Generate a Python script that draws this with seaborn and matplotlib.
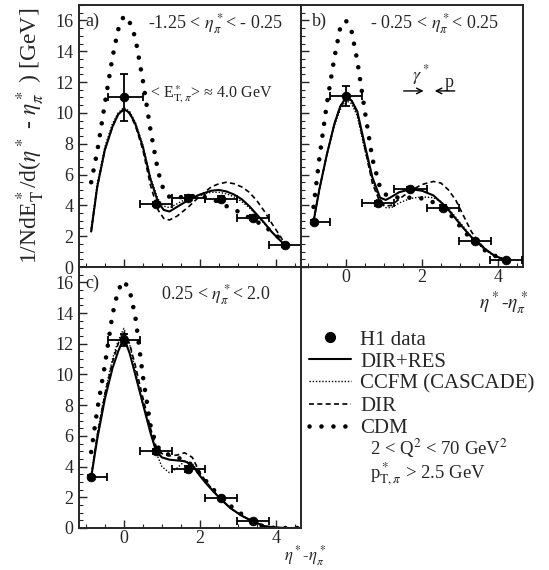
import matplotlib
matplotlib.use("Agg")
import matplotlib.pyplot as plt
from matplotlib.lines import Line2D
from matplotlib.ticker import MultipleLocator
import numpy as np
import pandas as pd
import seaborn as sns

# ---- panel a) -1.25 < eta*_pi < -0.25 ----
a_pts_x = [0.0, 0.85, 1.7, 2.55, 3.4, 4.25]
a_pts_y = [11.0, 4.1, 4.5, 4.4, 3.2, 1.43]
a_pts_yerr = [1.5, 0.15, 0.15, 0.2, 0.15, 0.1]
a_pts_xerr_lo = [0.43, 0.425, 0.425, 0.425, 0.425, 0.425]
a_pts_xerr_hi = [0.5, 0.425, 0.425, 0.425, 0.425, 0.425]

a_x = [-0.86, -0.7, -0.5, -0.3, -0.15, 0.0, 0.15, 0.3, 0.5, 0.7, 0.9, 1.05, 1.2, 1.4,
       1.7, 2.0, 2.3, 2.5, 2.7, 2.9, 3.1, 3.3, 3.5, 3.7, 3.9, 4.1, 4.25]
a_dirres = [2.3, 5.2, 7.6, 9.1, 9.9, 10.25, 10.0, 9.3, 7.8, 5.7, 4.2, 3.7, 3.6, 3.9,
            4.35, 4.7, 4.95, 5.0, 4.9, 4.7, 4.4, 3.95, 3.4, 2.85, 2.25, 1.75, 1.4]
a_ccfm = [2.5, 5.4, 7.8, 9.3, 10.0, 10.35, 10.1, 9.4, 7.9, 5.8, 4.4, 3.95, 3.85, 4.1,
          4.5, 4.7, 4.85, 4.85, 4.75, 4.55, 4.25, 3.85, 3.35, 2.8, 2.25, 1.75, 1.4]
a_dir = [2.3, 5.2, 7.6, 9.1, 9.9, 10.2, 9.95, 9.2, 7.6, 5.3, 3.7, 3.15, 3.05, 3.3,
         3.9, 4.6, 5.2, 5.4, 5.5, 5.4, 5.2, 4.85, 4.3, 3.6, 2.8, 2.05, 1.45]
a_cdm = [5.5, 7.5, 10.6, 13.6, 15.4, 16.3, 15.9, 14.9, 12.1, 8.9, 6.2, 4.95, 4.55, 4.5,
         4.6, 4.6, 4.45, 4.2, 3.95, 3.75, 3.45, 3.2, 2.95, 2.6, 2.3, 1.85, 1.45]

# ---- panel b) -0.25 < eta*_pi < 0.25 ----
b_pts_x = [-0.85, 0.0, 0.85, 1.7, 2.55, 3.4, 4.21]
b_pts_y = [2.95, 11.1, 4.14, 5.07, 3.86, 1.69, 0.46]
b_pts_yerr = [0.1, 0.67, 0.15, 0.15, 0.15, 0.1, 0.05]
b_pts_xerr_lo = [0.0, 0.425, 0.425, 0.425, 0.425, 0.425, 0.425]
b_pts_xerr_hi = [0.425, 0.425, 0.425, 0.425, 0.425, 0.425, 0.425]

b_x = [-0.85, -0.7, -0.5, -0.3, -0.15, 0.0, 0.15, 0.3, 0.5, 0.7, 0.9, 1.05, 1.2, 1.4,
       1.7, 2.0, 2.3, 2.5, 2.7, 2.9, 3.1, 3.3, 3.5, 3.7, 3.9, 4.05, 4.21]
b_dirres = [2.95, 5.0, 7.3, 9.3, 10.4, 11.0, 10.8, 10.1, 7.9, 5.8, 4.5, 4.35, 4.55, 4.85,
            5.05, 4.95, 4.65, 4.2, 3.7, 3.1, 2.5, 1.95, 1.5, 1.1, 0.75, 0.6, 0.46]
b_ccfm = [2.95, 5.0, 7.3, 9.2, 10.2, 10.8, 10.6, 9.8, 7.6, 5.6, 4.2, 3.85, 3.85, 4.15,
          4.45, 4.55, 4.5, 4.25, 3.8, 3.2, 2.6, 1.95, 1.45, 1.05, 0.7, 0.55, 0.45]
b_dir = [2.95, 5.0, 7.3, 9.3, 10.4, 11.0, 10.8, 10.0, 7.7, 5.4, 4.2, 3.95, 4.0, 4.4,
         4.95, 5.35, 5.55, 5.45, 5.0, 4.3, 3.3, 2.3, 1.6, 1.1, 0.75, 0.6, 0.46]
b_cdm = [3.9, 7.0, 10.6, 13.6, 15.5, 16.0, 15.3, 13.4, 10.1, 7.0, 5.15, 4.7, 4.55, 4.5,
         4.5, 4.45, 4.2, 3.95, 3.55, 2.95, 2.35, 1.8, 1.4, 1.0, 0.75, 0.6, 0.46]

# ---- panel c) 0.25 < eta*_pi < 2.0 ----
c_pts_x = [-0.86, 0.0, 0.85, 1.7, 2.55, 3.4]
c_pts_y = [3.35, 12.25, 5.0, 3.86, 1.97, 0.46]
c_pts_yerr = [0.1, 0.4, 0.15, 0.2, 0.1, 0.05]
c_pts_xerr_lo = [0.0, 0.425, 0.425, 0.425, 0.425, 0.425]
c_pts_xerr_hi = [0.425, 0.425, 0.425, 0.425, 0.425, 0.425]

c_x = [-0.86, -0.7, -0.5, -0.3, -0.15, 0.0, 0.15, 0.3, 0.5, 0.7, 0.85, 1.0, 1.2, 1.4,
       1.6, 1.8, 2.0, 2.2, 2.5, 2.8, 3.1, 3.4, 3.7, 4.0, 4.3, 4.65]
c_dirres = [3.3, 5.8, 8.4, 10.4, 11.5, 12.4, 11.4, 10.0, 8.1, 6.2, 5.0, 4.6, 4.45, 4.4,
            4.35, 4.1, 3.4, 2.8, 2.0, 1.3, 0.8, 0.42, 0.12, 0.03, 0.0, 0.0]
c_ccfm = [3.4, 6.1, 8.8, 11.0, 12.2, 13.0, 12.0, 10.3, 8.0, 6.3, 4.9, 4.0, 3.6, 3.9,
          4.35, 4.2, 3.5, 2.85, 2.0, 1.3, 0.8, 0.42, 0.12, 0.03, 0.0, 0.0]
c_dir = [3.3, 6.0, 8.7, 10.8, 12.0, 12.8, 12.0, 10.6, 8.5, 6.5, 5.3, 4.85, 4.7, 4.75,
         4.9, 4.6, 3.6, 2.9, 2.0, 1.3, 0.8, 0.42, 0.12, 0.03, 0.0, 0.0]
c_cdm = [4.95, 7.7, 10.6, 13.9, 15.5, 16.1, 15.5, 13.8, 9.9, 6.7, 5.4, 5.0, 4.75, 4.6,
         4.4, 4.1, 3.55, 2.95, 2.1, 1.45, 0.9, 0.4, 0.07, 0.0, 0.0, 0.0]

model_names = ["DIR+RES", "CCFM (CASCADE)", "DIR", "CDM"]
model_styles = {
    "DIR+RES": dict(linestyle="-", linewidth=1.5),
    "CCFM (CASCADE)": dict(linestyle=(0, (1.0, 1.3)), linewidth=1.0),
    "DIR": dict(linestyle=(0, (3.0, 2.0)), linewidth=1.2),
    "CDM": dict(linestyle=(0, (0.01, 2.6)), linewidth=3.3, dash_capstyle="round"),
}

sns.set_style("ticks")
plt.rcParams["font.family"] = ["Liberation Serif", "DejaVu Serif"]
plt.rcParams["mathtext.fontset"] = "stix"


def draw_panel(ax, x, curves, px, py, pyerr, pxlo, pxhi):
    for name, yv in zip(model_names, curves):
        frame = pd.DataFrame({"x": x, "y": yv})
        sns.lineplot(data=frame, x="x", y="y", ax=ax, color="black", estimator=None,
                     sort=False, legend=False, **model_styles[name])
    ax.errorbar(px, py, yerr=pyerr, xerr=[pxlo, pxhi], fmt="none", ecolor="black",
                elinewidth=1.3, capsize=3, capthick=1.3, zorder=4)
    pts = pd.DataFrame({"x": px, "y": py})
    sns.scatterplot(data=pts, x="x", y="y", ax=ax, color="black", s=40,
                    edgecolor="black", zorder=5, legend=False)
    ax.set_xlim(-1.18, 4.66)
    ax.set_ylim(0, 17)
    ax.xaxis.set_major_locator(MultipleLocator(2))
    ax.xaxis.set_minor_locator(MultipleLocator(0.5))
    ax.yaxis.set_major_locator(MultipleLocator(2))
    ax.yaxis.set_minor_locator(MultipleLocator(0.5))
    ax.tick_params(which="both", direction="in", top=False, right=False, labelsize=13)
    ax.tick_params(which="major", length=6, width=1.0, pad=4)
    ax.tick_params(which="minor", length=3, width=0.8)
    ax.tick_params(axis="x", which="major", pad=1.5)
    for sp in ax.spines.values():
        sp.set_visible(True)
        sp.set_linewidth(1.4)
    ax.set_xlabel("")
    ax.set_ylabel("")


fig = plt.figure(figsize=(5.49, 5.70), dpi=100)
W, H = 549.0, 570.0
ax_a = fig.add_axes([79 / W, 1 - 267 / H, 222 / W, 262 / H])
ax_b = fig.add_axes([301 / W, 1 - 267 / H, 222 / W, 262 / H])
ax_c = fig.add_axes([79 / W, 1 - 528 / H, 222 / W, 261 / H])

draw_panel(ax_a, a_x, [a_dirres, a_ccfm, a_dir, a_cdm],
           a_pts_x, a_pts_y, a_pts_yerr, a_pts_xerr_lo, a_pts_xerr_hi)
draw_panel(ax_b, b_x, [b_dirres, b_ccfm, b_dir, b_cdm],
           b_pts_x, b_pts_y, b_pts_yerr, b_pts_xerr_lo, b_pts_xerr_hi)
draw_panel(ax_c, c_x, [c_dirres, c_ccfm, c_dir, c_cdm],
           c_pts_x, c_pts_y, c_pts_yerr, c_pts_xerr_lo, c_pts_xerr_hi)

ax_a.tick_params(labelbottom=False)
ax_b.tick_params(labelleft=False)

ax_a.set_ylabel(r"1/NdE$^*_\mathrm{T}$/d($\eta^*$ - $\eta^*_\pi$ ) [GeV]", fontsize=17, labelpad=6)

# panel annotations
ax_a.text(0.03, 0.97, "a)", transform=ax_a.transAxes, fontsize=13, va="top")
ax_a.text(0.31, 0.93, r"-1.25 < $\eta^*_\pi$< - 0.25", transform=ax_a.transAxes,
          fontsize=13, va="center")
ax_a.text(0.32, 0.66, r"< E$^*_{\mathrm{T},\pi}$> ≈ 4.0 GeV", transform=ax_a.transAxes,
          fontsize=11.5, va="center")
ax_b.text(0.05, 0.97, "b)", transform=ax_b.transAxes, fontsize=13, va="top")
ax_b.text(0.31, 0.93, r"- 0.25 < $\eta^*_\pi$< 0.25", transform=ax_b.transAxes,
          fontsize=13, va="center")
ax_b.text(0.50, 0.733, r"$\gamma^*$", transform=ax_b.transAxes, fontsize=13, va="center")
ax_b.text(0.648, 0.706, "p", transform=ax_b.transAxes, fontsize=13, va="center")
ax_b.annotate("", xy=(0.565, 0.672), xytext=(0.45, 0.672), xycoords="axes fraction",
              arrowprops=dict(arrowstyle="->", lw=1.0, color="black"))
ax_b.annotate("", xy=(0.59, 0.672), xytext=(0.705, 0.672), xycoords="axes fraction",
              arrowprops=dict(arrowstyle="->", lw=1.0, color="black"))
ax_c.text(0.03, 0.97, "c)", transform=ax_c.transAxes, fontsize=13, va="top")
ax_c.text(0.37, 0.895, r"0.25 < $\eta^*_\pi$< 2.0", transform=ax_c.transAxes,
          fontsize=13, va="center")

# x axis titles
fig.text(528 / W, 1 - 303 / H, r"$\eta^*$-$\eta^*_\pi$", fontsize=14, ha="right", va="center")
fig.text(284 / W, 1 - 568 / H, r"$\eta^*$-$\eta^*_\pi$", fontsize=12, ha="left", va="bottom")

# legend
handles = [Line2D([], [], marker="o", linestyle="none", color="black", markersize=7)]
for name in model_names:
    handles.append(Line2D([], [], color="black", **model_styles[name]))
labels = ["H1 data"] + model_names
fig.legend(handles, labels, loc="upper left", bbox_to_anchor=(309 / W, 1 - 330 / H),
           frameon=False, fontsize=15, handlelength=2.0, handletextpad=0.45,
           labelspacing=0.12, borderaxespad=0, borderpad=0)

fig.text(370 / W, 1 - 448 / H, r"2 < Q$^2$ < 70 GeV$^2$", fontsize=13.5, va="center")
fig.text(370 / W, 1 - 474 / H, r"p$^*_{\mathrm{T},\pi}$ > 2.5 GeV", fontsize=13.5, va="center")

fig.savefig("out.png", dpi=100)
